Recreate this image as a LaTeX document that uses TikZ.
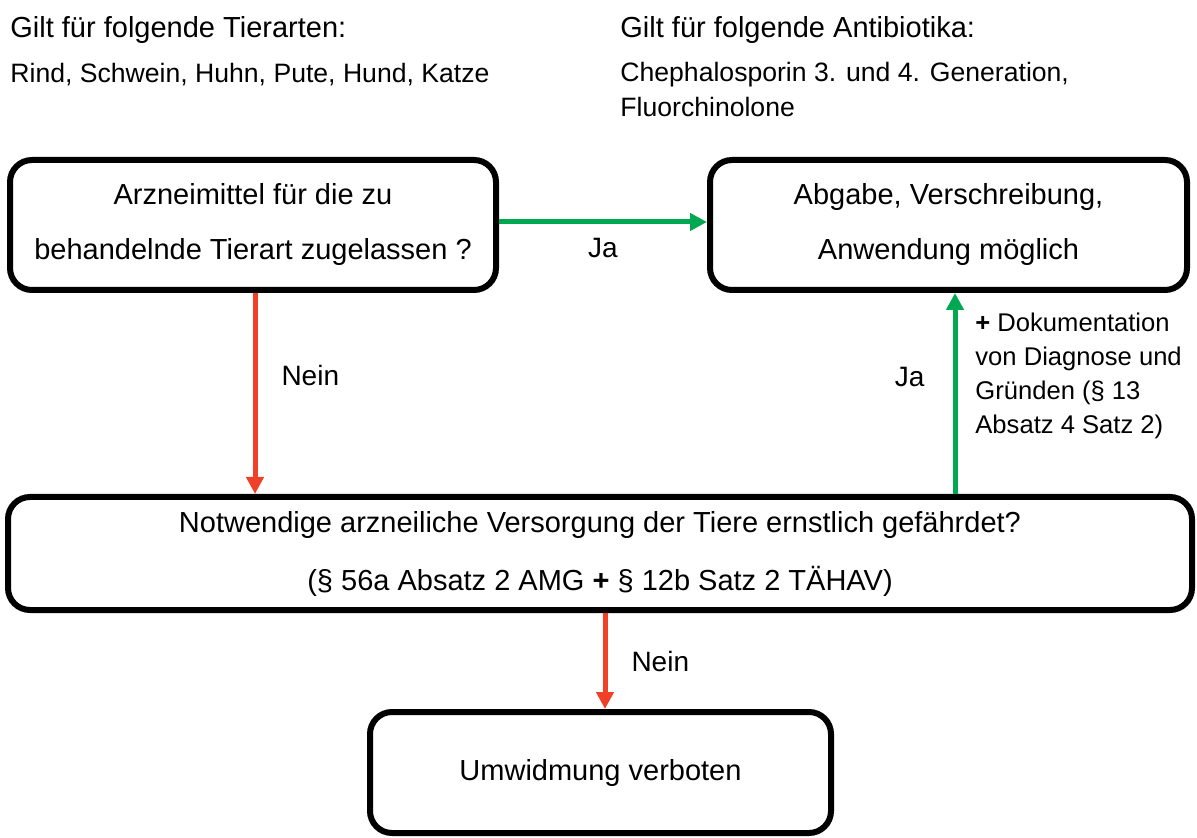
\documentclass[tikz,border=0pt]{standalone}
\usepackage{fontspec}
\setmainfont{Liberation Sans}
\usepackage{xcolor}
\usetikzlibrary{arrows.meta, positioning}

\definecolor{jagreen}{RGB}{0,168,82}
\definecolor{neinred}{RGB}{240,64,40}

\begin{document}
\begin{tikzpicture}[
    x=0.5pt, y=-0.5pt,
    flowbox/.style = {rectangle, rounded corners=11pt, draw=black, line width=3pt, align=center,
                      font=\fontsize{14.5}{27.5}\selectfont, inner sep=0pt},
    headtext/.style = {anchor=west, inner sep=0pt, font=\fontsize{14.5}{17}\selectfont},
    subtext/.style = {anchor=west, inner sep=0pt, align=left, font=\fontsize{13.3}{17.5}\selectfont},
    edgelabel/.style = {draw=none, inner sep=0pt, font=\fontsize{14}{17}\selectfont},
    yesarrow/.style = {-{Triangle[length=8.5pt, width=8.5pt]}, line width=2.5pt, jagreen},
    noarrow/.style = {-{Triangle[length=8.5pt, width=8.5pt]}, line width=2.5pt, neinred}
]
\useasboundingbox (0,0) rectangle (1197,838);

% header texts
\node [headtext] (tierhead) at (10, 30) {Gilt für folgende Tierarten:};
\node [subtext] (tierlist) at (10, 75) {Rind, Schwein, Huhn, Pute, Hund, Katze};
\node [headtext] (abhead) at (620, 30) {Gilt für folgende Antibiotika:};
\node [subtext, anchor=north west] (ablist) at (620, 62) {Chephalosporin 3. und 4. Generation,\\Fluorchinolone};

% boxes (sizes in pt = half the pixel size)
\node [flowbox, minimum width=243pt, minimum height=65pt] (zugelassen) at (253, 225)
    {Arzneimittel für die zu\\behandelnde Tierart zugelassen ?};
\node [flowbox, minimum width=238.5pt, minimum height=65pt] (moeglich) at (948.5, 225)
    {Abgabe, Verschreibung,\\Anwendung möglich};
\node [flowbox, minimum width=592pt, minimum height=56.5pt, font=\fontsize{14.5}{29}\selectfont] (versorgung) at (600, 553.5)
    {Notwendige arzneiliche Versorgung der Tiere ernstlich gefährdet?\\(§ 56a Absatz 2 AMG \textbf{+} § 12b Satz 2 TÄHAV)};
\node [flowbox, minimum width=230.5pt, minimum height=60.5pt] (verboten) at (600.5, 772.5)
    {Umwidmung verboten};

% connectors
\draw [yesarrow] (zugelassen.east |- 0,222) -- (moeglich.west |- 0,222)
    node [midway, below=7pt, edgelabel, text=black] {Ja};
\draw [noarrow] (zugelassen.south -| 255,0) -- (versorgung.north -| 255,0)
    node [pos=0.41, right=12pt, edgelabel, text=black] {Nein};
\draw [yesarrow] (versorgung.north -| 955,0) -- (moeglich.south -| 955,0)
    node [pos=0.58, left=14pt, edgelabel, text=black] {Ja};
\draw [noarrow] (versorgung.south -| 605,0) -- (verboten.north -| 605,0)
    node [midway, right=12pt, edgelabel, text=black] {Nein};

% annotation
\node [subtext, anchor=north west, font=\fontsize{12.8}{17}\selectfont] (doku) at (975, 313)
    {\textbf{+} Dokumentation\\von Diagnose und\\Gründen (§ 13\\Absatz 4 Satz 2)};

\end{tikzpicture}
\end{document}
